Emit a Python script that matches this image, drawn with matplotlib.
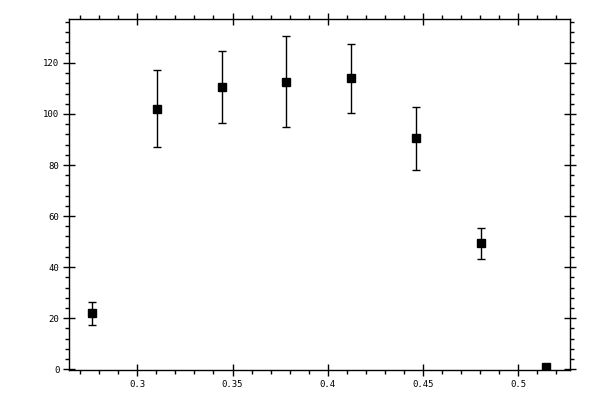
import matplotlib
matplotlib.use("Agg")
import matplotlib.pyplot as plt
from matplotlib.ticker import MultipleLocator, FuncFormatter

x = [0.2764, 0.3105, 0.3443, 0.3783, 0.4120, 0.4463, 0.4806, 0.5147]
y = [21.9, 101.8, 110.5, 112.4, 114.0, 90.5, 49.4, 1.0]
y_hi = [26.5, 117.1, 124.6, 130.4, 127.3, 102.6, 55.2, 1.0]
y_lo = [17.4, 87.0, 96.4, 94.8, 100.3, 77.9, 43.1, 1.0]

err_lo = [v - l for v, l in zip(y, y_lo)]
err_hi = [h - v for v, h in zip(y, y_hi)]

fig = plt.figure(figsize=(6, 4), dpi=100)
ax = fig.add_axes([69/600, 30/400, 501/600, 351/400])

ax.errorbar(x, y, yerr=[err_lo, err_hi], fmt='s', color='black',
            markersize=5.2, elinewidth=1.0, capsize=2.8, capthick=1.0)

ax.set_xlim(0.2642, 0.5271)
ax.set_ylim(-0.3, 137.2)

ax.xaxis.set_major_locator(MultipleLocator(0.05))
ax.xaxis.set_minor_locator(MultipleLocator(0.01))
ax.yaxis.set_major_locator(MultipleLocator(20))
ax.yaxis.set_minor_locator(MultipleLocator(4))
ax.xaxis.set_major_formatter(FuncFormatter(lambda v, p: ('%g' % round(v, 4))))
ax.yaxis.set_major_formatter(FuncFormatter(lambda v, p: ('%g' % round(v, 4))))

for s in ax.spines.values():
    s.set_linewidth(1.0)

ax.tick_params(which='major', direction='inout', length=8, width=1.0,
               top=True, right=True, labelsize=6.5, pad=3)
ax.tick_params(which='minor', direction='out', length=3, width=1.0,
               top=True, right=True)
for lab in ax.get_xticklabels() + ax.get_yticklabels():
    lab.set_family('DejaVu Sans Mono')

fig.savefig("out.png", dpi=100)
